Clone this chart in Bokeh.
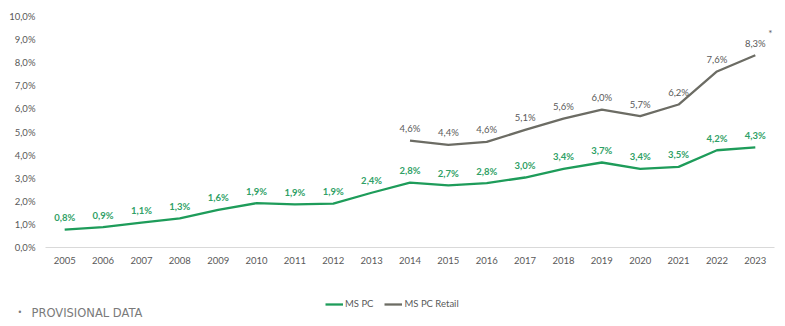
from bokeh.plotting import figure
from bokeh.layouts import column
from bokeh.models import ColumnDataSource, FactorRange, Range1d, FixedTicker, Legend, LegendItem, Label
from bokeh.core.properties import value
from bokeh.embed import file_html
from bokeh.resources import INLINE

years = [str(y) for y in range(2005, 2024)]
ms_pc = [0.77, 0.88, 1.08, 1.26, 1.63, 1.92, 1.87, 1.90, 2.37, 2.81,
         2.69, 2.79, 3.03, 3.40, 3.68, 3.40, 3.49, 4.21, 4.33]
retail_years = [str(y) for y in range(2014, 2024)]
ms_pc_retail = [4.63, 4.44, 4.57, 5.09, 5.58, 5.97, 5.69, 6.19, 7.62, 8.32]
y_ticks = list(range(0, 11))
y_tick_labels = {t: f"{t},0%" for t in y_ticks}
series_names = ["MS PC", "MS PC Retail"]
note_text = "PROVISIONAL DATA"

FONT = "Lato"
GREEN = "#1e9c5a"
GREEN_TXT = "#2f9f66"
GRAY = "#6c6c64"
GRAY_TXT = "#5a5a5a"

def fmt(v):
    return f"{v:.1f}".replace(".", ",") + "%"

p = figure(width=785, height=290, x_range=FactorRange(*years, range_padding=0),
           y_range=Range1d(0, 10), output_backend="svg", toolbar_location=None,
           min_border_left=45, min_border_right=11, min_border_top=16, min_border_bottom=43)
p.frame_align = False
p.outline_line_color = None
p.xgrid.grid_line_color = None
p.ygrid.grid_line_color = None

p.yaxis.ticker = FixedTicker(ticks=y_ticks)
p.yaxis.major_label_overrides = y_tick_labels
p.yaxis.axis_line_color = None
p.yaxis.major_tick_line_color = None
p.yaxis.minor_tick_line_color = None
p.yaxis.major_tick_out = 0
p.yaxis.minor_tick_out = 0
p.yaxis.major_label_text_font = FONT
p.yaxis.major_label_text_font_size = "9.5px"
p.yaxis.major_label_text_color = "#595959"
p.yaxis.major_label_standoff = 10

p.xaxis.axis_line_color = "#d9d9d9"
p.xaxis.major_tick_line_color = None
p.xaxis.minor_tick_line_color = None
p.xaxis.major_tick_out = 0
p.xaxis.minor_tick_out = 0
p.xaxis.major_label_text_font = FONT
p.xaxis.major_label_text_font_size = "9.5px"
p.xaxis.major_label_text_color = "#595959"
p.xaxis.major_label_standoff = 9

src_pc = ColumnDataSource(dict(x=years, y=ms_pc, lab=[fmt(v) for v in ms_pc]))
src_rt = ColumnDataSource(dict(x=retail_years, y=ms_pc_retail, lab=[fmt(v) for v in ms_pc_retail]))

p.line("x", "y", source=src_pc, line_color=GREEN, line_width=2.3)
p.line("x", "y", source=src_rt, line_color=GRAY, line_width=2.3)

p.text("x", "y", text="lab", source=src_pc, text_font=value(FONT), text_font_style="bold",
       text_font_size="9.5px", text_color=GREEN_TXT, text_align="center",
       text_baseline="middle", y_offset=-12)
p.text("x", "y", text="lab", source=src_rt, text_font=value(FONT),
       text_font_size="9.5px", text_color=GRAY_TXT, text_align="center",
       text_baseline="middle", y_offset=-12)

star_src = ColumnDataSource(dict(x=[retail_years[-1]], y=[ms_pc_retail[-1]], t=["*"]))
p.text("x", "y", text="t", source=star_src, text_font=value(FONT), text_font_size="10px",
       text_color=GRAY_TXT, text_align="center", text_baseline="middle",
       x_offset=15, y_offset=-22)

# footer figure with legend and note
f = figure(width=785, height=36, x_range=Range1d(0, 1), y_range=Range1d(0, 1),
           output_backend="svg", toolbar_location=None,
           x_axis_location=None, y_axis_location=None,
           min_border_left=0, min_border_right=0, min_border_top=0, min_border_bottom=0)
f.frame_align = False
f.xgrid.visible = False
f.ygrid.visible = False
f.outline_line_color = None
# off-range placeholder lines, used only as legend glyph sources
g1 = f.line(x=[-2, -1], y=[-2, -2], line_color=GREEN, line_width=2.3)
g2 = f.line(x=[-2, -1], y=[-2, -2], line_color=GRAY, line_width=2.3)

legend = Legend(items=[LegendItem(label=series_names[0], renderers=[g1]),
                       LegendItem(label=series_names[1], renderers=[g2])],
                orientation="horizontal", location=(325, 17),
                padding=0, margin=0, spacing=11, label_standoff=2,
                glyph_width=18, glyph_height=10,
                label_text_font=FONT, label_text_font_size="9.5px",
                label_text_color="#595959", background_fill_alpha=0,
                border_line_color=None)
f.add_layout(legend)

f.add_layout(Label(x=17, y=14, x_units="screen", y_units="screen", text="\u2022",
                   text_font="DejaVu Sans", text_font_size="8px", text_color="#7a7a7a",
                   text_baseline="middle"))
f.add_layout(Label(x=31, y=14, x_units="screen", y_units="screen", text=note_text,
                   text_font="DejaVu Sans", text_font_size="11.5px", text_color="#7a7a7a",
                   text_baseline="middle"))

open("out.html", "w").write(file_html(column(p, f, spacing=0), INLINE))
